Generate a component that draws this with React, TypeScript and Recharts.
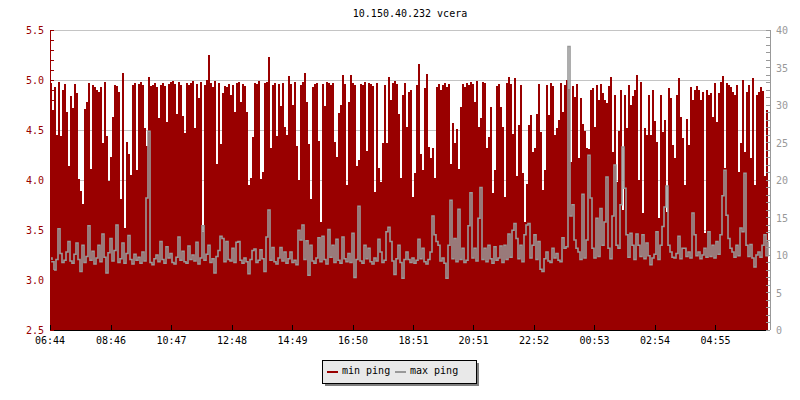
import { Area, CartesianGrid, ComposedChart, Line, XAxis, YAxis } from 'recharts';

const TITLE = '10.150.40.232 vcera';
const START_TIME = '06:44';
const STEP_MIN = 4;
const TIME_LABELS = ['06:44', '08:46', '10:47', '12:48', '14:49', '16:50', '18:51', '20:51', '22:52', '00:53', '02:54', '04:55'];
const SERIES_NAMES = ['min ping', 'max ping'];

// min ping (ms), left axis
const MIN_PING = [
    4.97, 4.7, 4.93, 4.45, 4.98, 4.44, 4.9, 4.96, 4.68, 4.14,
    4.84, 4.72, 4.96, 4.87, 4.01, 3.89, 3.76, 4.71, 4.78, 4.97,
    4.11, 4.95, 4.93, 4.9, 4.88, 4.93, 4.37, 4.98, 4.44, 3.99,
    4.23, 4.63, 4.95, 4.94, 4.88, 3.81, 5.07, 3.52, 4.38, 4.26,
    4.05, 4.95, 4.97, 4.1, 4.96, 4.98, 4.95, 4.52, 4.34, 5.03,
    4.94, 4.95, 4.97, 4.93, 4.62, 4.95, 4.97, 4.94, 4.58, 4.96,
    4.98, 4.99, 4.96, 4.66, 4.98, 4.95, 4.64, 4.47, 4.97, 4.95,
    4.97, 4.99, 4.52, 4.96, 4.82, 4.98, 3.48, 4.95, 5.0, 5.25,
    4.97, 4.93, 4.99, 4.16, 4.97, 4.36, 4.87, 4.94, 4.93, 4.96,
    4.85, 4.95, 4.68, 4.97, 4.98, 4.78, 4.96, 4.94, 4.68, 3.95,
    4.02, 4.43, 4.97, 4.96, 4.99, 4.01, 4.08, 4.97, 4.98, 5.23,
    4.32, 4.95, 4.97, 4.44, 4.96, 4.74, 4.97, 4.53, 4.45, 5.04,
    4.96, 4.75, 4.98, 4.34, 4.0, 4.95, 4.98, 5.07, 4.78, 4.36,
    3.81, 4.93, 4.96, 4.97, 4.39, 3.58, 4.96, 4.74, 4.98, 4.97,
    4.95, 4.97, 4.38, 4.23, 4.67, 4.75, 5.05, 4.96, 3.95, 4.78,
    5.05, 4.97, 4.95, 4.14, 4.2, 4.96, 4.95, 4.98, 4.29, 4.97,
    4.96, 4.94, 3.88, 4.97, 4.12, 3.98, 4.37, 4.95, 4.37, 5.03,
    4.8, 4.97, 4.99, 4.96, 4.66, 4.02, 4.85, 4.97, 4.53, 4.88,
    4.9, 3.83, 4.07, 4.95, 5.16, 4.26, 4.1, 4.92, 5.06, 4.33,
    4.22, 4.32, 4.02, 4.93, 4.96, 4.9, 4.95, 4.97, 4.93, 4.96,
    4.16, 4.57, 4.37, 4.51, 4.11, 4.73, 4.96, 4.93, 4.97, 4.95,
    4.98, 4.96, 4.78, 4.99, 4.53, 4.62, 4.98, 4.97, 4.32, 4.43,
    4.73, 3.87, 4.1, 4.94, 4.96, 4.73, 4.53, 3.83, 4.97, 5.03,
    4.96, 4.46, 5.02, 4.04, 4.55, 4.95, 4.07, 3.58, 3.96, 4.55,
    4.65, 4.28, 4.32, 4.66, 4.96, 4.48, 3.9, 4.1, 4.95, 4.65,
    4.97, 4.94, 4.45, 4.52, 4.6, 4.97, 4.68, 4.95, 5.0, 4.91,
    4.18, 4.94, 4.83, 4.96, 4.22, 4.82, 4.56, 4.49, 4.32, 4.31,
    4.9, 4.92, 4.53, 4.95, 4.8, 4.96, 4.87, 4.8, 4.77, 4.94,
    5.03, 4.28, 4.85, 3.98, 4.49, 4.9, 3.7, 4.85, 4.52, 4.95,
    4.75, 4.84, 4.9, 5.05, 4.0, 4.98, 3.67, 4.52, 4.45, 4.85,
    4.45, 4.9, 4.59, 4.38, 3.62, 4.85, 4.48, 4.6, 3.68, 4.92,
    4.82, 4.35, 4.22, 4.85, 5.02, 4.63, 4.42, 3.95, 4.61, 4.35,
    4.93, 4.8, 4.9, 4.94, 4.9, 4.8, 4.88, 3.47, 4.9, 4.85,
    4.87, 4.63, 4.97, 4.58, 4.87, 4.98, 5.04, 4.12, 4.97, 4.95,
    4.93, 4.88, 4.85, 4.95, 4.08, 4.37, 5.0, 4.28, 4.88, 4.95,
    4.22, 5.02, 3.95, 4.85, 4.88, 4.93, 4.89, 4.04, 4.7, 4.25,
];

// max ping (ms), right axis
const MAX_PING = [
    9.6, 9.1, 8.0, 9.4, 13.5, 10.2, 9.0, 9.3, 10.4, 11.8,
    9.2, 8.9, 10.1, 11.6, 9.4, 7.8, 11.3, 9.0, 9.8, 13.9,
    9.3, 10.5, 8.8, 9.6, 11.3, 9.1, 12.8, 9.7, 7.6, 10.3,
    12.2, 9.2, 10.6, 14.0, 9.0, 9.5, 11.6, 8.9, 10.2, 12.6,
    9.4, 8.8, 10.1, 9.3, 9.7, 8.9, 10.4, 9.2, 17.6, 26.5,
    9.0, 8.7, 9.5, 10.0, 9.1, 11.8, 9.4, 8.9, 11.1, 9.6,
    10.2, 9.0, 8.8, 9.7, 12.4, 9.3, 10.5, 9.1, 8.9, 11.2,
    9.4, 10.0, 9.2, 11.7, 8.8, 9.6, 13.9, 9.3, 10.1, 11.3,
    9.0, 9.5, 7.6, 9.8, 10.6, 12.5, 12.2, 9.1, 11.8, 9.4,
    9.2, 10.9, 9.0, 11.7, 11.8, 9.3, 8.9, 9.6, 9.1, 7.5,
    9.4, 10.6, 10.8, 9.0, 9.3, 10.7, 9.5, 7.8, 12.4, 16.0,
    9.3, 11.0, 9.1, 8.8, 9.6, 11.0, 9.2, 10.4, 8.9, 9.5,
    10.4, 9.0, 9.3, 8.7, 13.3, 12.0, 14.0, 9.4, 11.9, 7.3,
    11.3, 9.2, 8.9, 9.6, 12.3, 9.1, 12.5, 9.4, 8.8, 13.4,
    9.7, 11.3, 9.0, 12.1, 9.3, 8.9, 12.4, 9.5, 9.1, 10.2,
    9.0, 12.9, 7.0, 9.4, 16.5, 9.2, 8.9, 11.3, 9.5, 10.9,
    9.1, 8.8, 9.6, 9.2, 12.1, 10.4, 9.0, 9.3, 13.1, 13.7,
    11.8, 9.2, 7.4, 9.5, 11.3, 9.0, 6.9, 9.4, 10.4, 9.4,
    9.0, 9.6, 8.9, 9.3, 12.1, 9.5, 10.9, 9.1, 8.8, 9.4,
    10.4, 15.2, 12.7, 11.8, 11.3, 9.2, 9.6, 8.9, 6.9, 11.3,
    17.3, 9.5, 12.2, 9.1, 16.1, 9.4, 10.9, 9.0, 9.3, 13.9,
    18.3, 9.6, 10.9, 9.2, 14.9, 19.0, 9.4, 10.9, 9.1, 11.3,
    9.5, 8.9, 11.1, 9.3, 9.6, 11.2, 9.0, 11.3, 9.4, 12.8,
    9.7, 13.3, 14.2, 12.2, 9.5, 11.3, 9.1, 12.7, 14.0, 14.2,
    9.6, 11.3, 12.7, 9.4, 11.8, 8.1, 7.8, 9.5, 10.4, 9.2,
    9.0, 10.9, 9.6, 10.2, 9.3, 9.1, 12.3, 10.9, 11.1, 37.8,
    15.2, 16.7, 12.0, 10.9, 10.4, 9.4, 18.1, 9.6, 12.0, 23.3,
    17.6, 10.9, 9.6, 14.9, 9.8, 16.2, 11.3, 14.4, 20.4, 10.9,
    9.5, 15.2, 22.0, 11.3, 10.9, 16.7, 24.4, 18.9, 12.7, 9.7,
    12.9, 11.3, 9.4, 12.8, 11.3, 9.8, 12.7, 9.5, 11.6, 9.9,
    8.7, 9.6, 10.1, 13.1, 9.4, 11.3, 13.8, 16.4, 19.2, 11.3,
    10.4, 9.7, 9.6, 10.2, 12.5, 9.5, 10.9, 10.9, 9.8, 10.4,
    9.6, 15.6, 12.7, 9.9, 10.4, 9.5, 10.0, 10.9, 9.7, 13.1,
    9.8, 11.3, 9.6, 11.8, 10.1, 12.7, 17.9, 21.3, 15.3, 12.2,
    10.9, 10.4, 9.7, 11.3, 9.9, 13.6, 13.1, 20.9, 11.3, 9.8,
    11.4, 9.6, 8.4, 10.0, 10.4, 9.7, 11.3, 12.7, 9.9, 11.8,
];

const RED = '#990000';
const GRAY = '#999999';
const FONT = '"DejaVu Sans Mono", monospace';

const toMinutes = (s: string) => {
    const [h, m] = s.split(':').map(Number);
    return h * 60 + m;
};

// minutes since start of the window for every time label
const timeTicks = TIME_LABELS.map((l) => (toMinutes(l) - toMinutes(START_TIME) + 1440) % 1440);
const leftTicks = Array.from({ length: 31 }, (_, k) => Math.round((2.5 + k * 0.1) * 10) / 10);
const rightTicks = Array.from({ length: 41 }, (_, k) => k);

const data = MIN_PING.map((v, i) => ({ t: i * STEP_MIN, min: v, max: MAX_PING[i] }));

function LeftTick(props: any) {
    const { x, y, payload } = props;
    const v = payload.value as number;
    const major = Math.abs(v * 2 - Math.round(v * 2)) < 1e-6;
    return (
        <g>
            <line x1={x + 6} x2={x + 10} y1={y} y2={y} stroke={RED} />
            {major && (
                <text x={x} y={y + 4} textAnchor="end" fill={RED} fontSize={10} fontFamily={FONT}>
                    {v.toFixed(1)}
                </text>
            )}
        </g>
    );
}

function RightTick(props: any) {
    const { x, y, payload } = props;
    const v = payload.value as number;
    return (
        <g>
            <line x1={x - 10} x2={x - 6} y1={y} y2={y} stroke={GRAY} />
            {v % 5 === 0 && (
                <text x={x} y={y + 4} textAnchor="start" fill={GRAY} fontSize={10} fontFamily={FONT}>
                    {v}
                </text>
            )}
        </g>
    );
}

function TimeTick(props: any) {
    const { x, y, index } = props;
    return (
        <g>
            <line x1={x} x2={x} y1={y - 9} y2={y - 4} stroke="#000" />
            <text x={x} y={y + 10} textAnchor="middle" fill="#000" fontSize={10} fontFamily={FONT}>
                {TIME_LABELS[index]}
            </text>
        </g>
    );
}

export default function App() {
    const legendColors = [RED, GRAY];
    return (
        <div
            style={{
                position: 'absolute',
                left: 0,
                top: 0,
                width: 800,
                height: 400,
                background: '#fff',
                shapeRendering: 'crispEdges',
            }}
        >
            <ComposedChart width={800} height={400} data={data} margin={{ top: 30, right: 0, bottom: 40, left: 0 }}>
                <CartesianGrid
                    yAxisId="left"
                    vertical={false}
                    horizontalValues={[3, 3.5, 4, 4.5, 5, 5.5]}
                    stroke="#c4c4c4"
                />
                <XAxis
                    dataKey="t"
                    type="number"
                    domain={[0, 1440]}
                    ticks={timeTicks}
                    interval={0}
                    height={30}
                    tickSize={4}
                    tickMargin={0}
                    tickLine={false}
                    axisLine={{ stroke: '#000' }}
                    tick={<TimeTick />}
                />
                <YAxis
                    yAxisId="left"
                    orientation="left"
                    width={50}
                    domain={[2.5, 5.5]}
                    ticks={leftTicks}
                    interval={0}
                    tickSize={6}
                    tickMargin={0}
                    tickLine={false}
                    axisLine={{ stroke: RED }}
                    tick={<LeftTick />}
                />
                <YAxis
                    yAxisId="right"
                    orientation="right"
                    width={30}
                    domain={[0, 40]}
                    ticks={rightTicks}
                    interval={0}
                    tickSize={5}
                    tickMargin={1}
                    tickLine={false}
                    axisLine={{ stroke: GRAY }}
                    tick={<RightTick />}
                />
                <Area
                    yAxisId="left"
                    type="stepAfter"
                    dataKey="min"
                    stroke="none"
                    fill={RED}
                    fillOpacity={1}
                    isAnimationActive={false}
                />
                <Line
                    yAxisId="right"
                    type="stepAfter"
                    dataKey="max"
                    stroke={GRAY}
                    strokeWidth={1.6}
                    shapeRendering="geometricPrecision"
                    dot={false}
                    activeDot={false}
                    isAnimationActive={false}
                />
            </ComposedChart>
            <svg width={800} height={400} style={{ position: 'absolute', left: 0, top: 0, pointerEvents: 'none' }}>
                <text x={410} y={17} textAnchor="middle" fontSize={10} fontFamily={FONT} fill="#000">
                    {TITLE}
                </text>
                <rect x={325} y={363} width={154} height={23} fill="#7f7f7f" />
                <rect x={322} y={360} width={154} height={23} fill="#e9e9e9" stroke="#000" />
                {SERIES_NAMES.map((name, i) => {
                    const x0 = 327 + i * 68;
                    return (
                        <g key={name}>
                            <line x1={x0} x2={x0 + 11} y1={372} y2={372} stroke={legendColors[i]} strokeWidth={2} />
                            <text x={x0 + 15} y={374} fontSize={10} fontFamily={FONT} fill="#000">
                                {name}
                            </text>
                        </g>
                    );
                })}
            </svg>
        </div>
    );
}
